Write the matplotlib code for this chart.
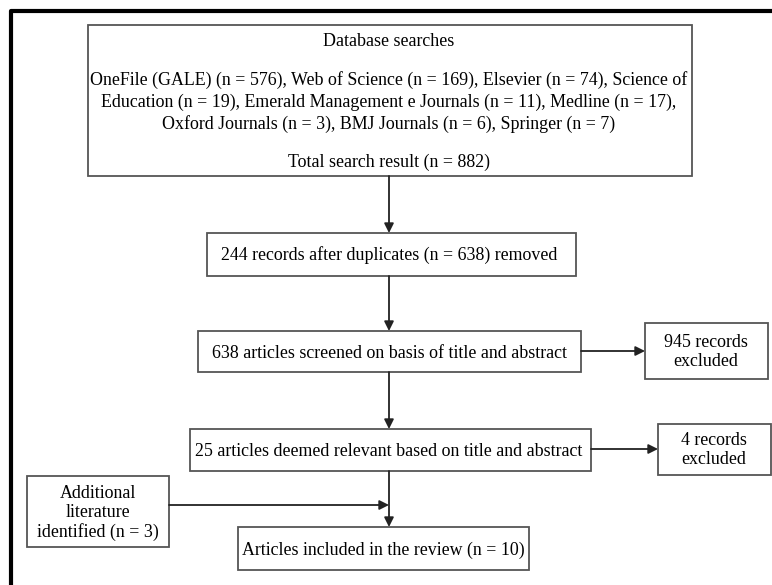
import matplotlib.pyplot as plt
from matplotlib.patches import Rectangle

plt.rcParams['font.family'] = ['Liberation Serif', 'DejaVu Serif']

# box texts, top to bottom
db_title = "Database searches"
db_lines = ["OneFile (GALE) (n = 576), Web of Science (n = 169), Elsevier (n = 74), Science of",
            "Education (n = 19), Emerald Management e Journals (n = 11), Medline (n = 17),",
            "Oxford Journals (n = 3), BMJ Journals (n = 6), Springer (n = 7)"]
db_total = "Total search result (n = 882)"
dup_text = "244 records after duplicates (n = 638) removed"
screen_text = "638 articles screened on basis of title and abstract"
excl1_text = "945 records\nexcluded"
relevant_text = "25 articles deemed relevant based on title and abstract"
excl2_text = "4 records\nexcluded"
extra_text = "Additional\nliterature\nidentified (n = 3)"
final_text = "Articles included in the review (n = 10)"

W, H = 772, 585
fig = plt.figure(figsize=(W / 100, H / 100), dpi=100)
ax = fig.add_axes([0, 0, 1, 1])
ax.set_xlim(0, W)
ax.set_ylim(H, 0)
ax.axis('off')

edge = '#555555'
fs = 12.9


def box(x0, y0, x1, y1):
    ax.add_patch(Rectangle((x0, y0), x1 - x0, y1 - y0, fill=False, ec=edge, lw=1.3))


def arrow(x0, y0, x1, y1):
    ax.annotate('', xy=(x1, y1), xytext=(x0, y0),
                arrowprops=dict(arrowstyle='-|>', color='#222222', lw=1.3,
                                mutation_scale=14, shrinkA=0, shrinkB=0))


# outer frame (left and top only, image is cropped)
ax.plot([10.5, 10.5, W], [H, 10.5, 10.5], color='black', lw=3, solid_capstyle='butt')

cx = 389

# top box
box(88, 25, 692, 176)
ax.text(cx, 41, db_title, ha='center', va='center', fontsize=fs)
for i, line in enumerate(db_lines):
    ax.text(cx, 80 + i * 22, line, ha='center', va='center', fontsize=fs)
ax.text(cx, 162, db_total, ha='center', va='center', fontsize=fs)
arrow(cx, 176, cx, 233)

box(207, 233, 576, 276)
ax.text(cx, 255, dup_text, ha='center', va='center', fontsize=fs)
arrow(cx, 276, cx, 331)

box(198, 331, 581, 372)
ax.text(cx, 353, screen_text, ha='center', va='center', fontsize=fs)
arrow(581, 351, 645, 351)

box(645, 323, 768, 379)
ax.text(706, 352, excl1_text, ha='center', va='center', fontsize=fs, linespacing=1.17)
arrow(cx, 372, cx, 429)

box(190, 429, 591, 471)
ax.text(cx, 451, relevant_text, ha='center', va='center', fontsize=fs)
arrow(591, 449, 658, 449)

box(658, 424, 771, 475)
ax.text(714, 450, excl2_text, ha='center', va='center', fontsize=fs, linespacing=1.17)

box(27, 476, 169, 547)
ax.text(98, 513, extra_text, ha='center', va='center', fontsize=fs, linespacing=1.17)
arrow(169, 505, cx, 505)
arrow(cx, 471, cx, 527)

box(238, 527, 529, 570)
ax.text(383, 550, final_text, ha='center', va='center', fontsize=fs)

fig.savefig('out.png', dpi=100, facecolor='white')
